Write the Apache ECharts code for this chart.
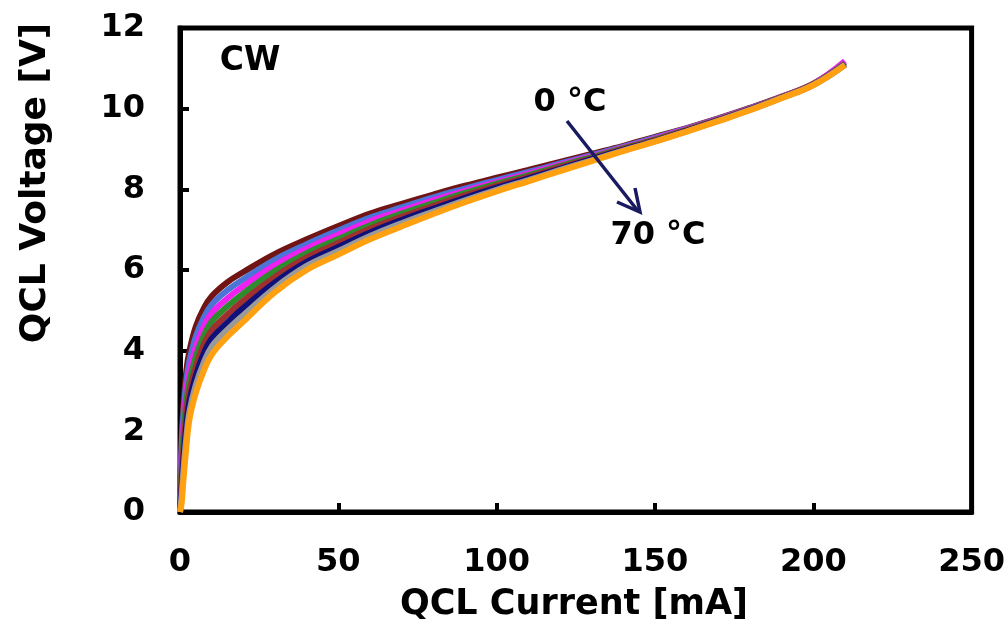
<!DOCTYPE html>
<html>
<head>
<meta charset="utf-8">
<script src="https://cdn.jsdelivr.net/npm/echarts@6/dist/echarts.min.js"></script>
<style>html,body{margin:0;padding:0;background:#fff;}#c{width:1008px;height:630px;}</style>
</head>
<body>
<div id="c"></div>
<script>
// QCL current [mA]
var current = [0, 0.5, 1, 2, 3, 5, 7.5, 10, 15, 20, 30, 40, 50, 60, 70, 80, 90, 100, 110, 120, 130, 140, 150, 160, 170, 180, 190, 200, 210];
// QCL voltage [V] per heat-sink temperature
var v0C  = [0, 1.8, 2.6, 3.5, 4.0, 4.6, 5.05, 5.35, 5.7, 5.95, 6.4, 6.76, 7.09, 7.4, 7.64, 7.87, 8.09, 8.29, 8.48, 8.68, 8.88, 9.08, 9.3, 9.52, 9.76, 10.02, 10.3, 10.62, 11.15];
var v10C = [0, 1.6, 2.35, 3.25, 3.75, 4.35, 4.82, 5.14, 5.5, 5.77, 6.26, 6.64, 6.98, 7.3, 7.55, 7.8, 8.02, 8.23, 8.43, 8.64, 8.85, 9.06, 9.28, 9.51, 9.75, 10.01, 10.29, 10.61, 11.14];
var v20C = [0, 1.35, 2.05, 3.0, 3.5, 4.1, 4.6, 4.93, 5.3, 5.6, 6.12, 6.53, 6.88, 7.21, 7.47, 7.73, 7.96, 8.18, 8.39, 8.61, 8.82, 9.04, 9.26, 9.5, 9.74, 10.0, 10.29, 10.61, 11.18];
var v30C = [0, 1.1, 1.8, 2.75, 3.25, 3.85, 4.37, 4.72, 5.1, 5.42, 5.98, 6.42, 6.77, 7.11, 7.4, 7.66, 7.91, 8.14, 8.35, 8.58, 8.8, 9.02, 9.24, 9.48, 9.73, 9.99, 10.28, 10.6, 11.12];
var v40C = [0, 0.85, 1.5, 2.45, 3.0, 3.6, 4.15, 4.5, 4.9, 5.24, 5.83, 6.31, 6.67, 7.02, 7.32, 7.59, 7.85, 8.09, 8.31, 8.55, 8.77, 9.0, 9.22, 9.47, 9.72, 9.99, 10.28, 10.6, 11.1];
var v50C = [0, 0.6, 1.2, 2.15, 2.75, 3.38, 3.93, 4.3, 4.7, 5.06, 5.69, 6.2, 6.57, 6.93, 7.24, 7.52, 7.79, 8.04, 8.27, 8.51, 8.75, 8.98, 9.2, 9.45, 9.71, 9.98, 10.27, 10.59, 11.09];
var v60C = [0, 0.4, 0.95, 1.85, 2.5, 3.15, 3.7, 4.1, 4.52, 4.88, 5.56, 6.1, 6.47, 6.84, 7.16, 7.45, 7.73, 7.99, 8.23, 8.48, 8.72, 8.96, 9.19, 9.44, 9.7, 9.97, 10.27, 10.59, 11.09];
var v70C = [0, 0.2, 0.7, 1.6, 2.3, 2.95, 3.5, 3.9, 4.35, 4.72, 5.45, 6.0, 6.38, 6.76, 7.08, 7.39, 7.68, 7.95, 8.2, 8.45, 8.7, 8.95, 9.18, 9.43, 9.69, 9.96, 10.26, 10.58, 11.08];
var temperatures = ['0 °C', '10 °C', '20 °C', '30 °C', '40 °C', '50 °C', '60 °C', '70 °C'];
var voltages = [v0C, v10C, v20C, v30C, v40C, v50C, v60C, v70C];
var colors = ['#701414', '#4A74D6', '#F020F0', '#2E8B2E', '#A03030', '#10107A', '#9A9A9A', '#FFA010'];

var FONT = '"DejaVu Sans", Verdana, sans-serif';

var series = voltages.map(function (vals, i) {
  return {
    name: temperatures[i],
    type: 'line',
    showSymbol: false,
    symbol: 'none',
    smooth: 0.4,
    lineStyle: { color: colors[i], width: 6 },
    data: current.map(function (c, k) { return [c, vals[k]]; }),
    z: 2 + i
  };
});

var chart = echarts.init(document.getElementById('c'), null, { renderer: 'canvas' });
chart.setOption({
  animation: false,
  backgroundColor: '#fff',
  grid: { left: 180, right: 35, top: 28, bottom: 118, show: true, borderColor: '#000', borderWidth: 5, backgroundColor: 'transparent' },
  xAxis: {
    type: 'value', min: 0, max: 250, interval: 50,
    axisLine: { show: true, onZero: false, lineStyle: { color: '#000', width: 5 } },
    axisTick: { show: true, inside: true, length: 9, lineStyle: { color: '#000', width: 4 } },
    axisLabel: { color: '#000', fontFamily: FONT, fontWeight: 'bold', fontSize: 32, margin: 35 },
    splitLine: { show: false }
  },
  yAxis: {
    type: 'value', min: 0, max: 12, interval: 2,
    axisLine: { show: true, onZero: false, lineStyle: { color: '#000', width: 5 } },
    axisTick: { show: true, inside: true, length: 9, lineStyle: { color: '#000', width: 4 } },
    axisLabel: { color: '#000', fontFamily: FONT, fontWeight: 'bold', fontSize: 32, margin: 35 },
    splitLine: { show: false }
  },
  series: series,
  graphic: [
    { type: 'text', x: 574, y: 605, style: { text: 'QCL Current [mA]', font: 'bold 35px ' + FONT, fill: '#000', textAlign: 'center', textVerticalAlign: 'middle' } },
    { type: 'text', x: 36, y: 183, rotation: Math.PI / 2, style: { text: 'QCL Voltage [V]', font: 'bold 36px ' + FONT, fill: '#000', textAlign: 'center', textVerticalAlign: 'middle' } },
    { type: 'text', x: 250, y: 61, style: { text: 'CW', font: 'bold 33px ' + FONT, fill: '#000', textAlign: 'center', textVerticalAlign: 'middle' } },
    { type: 'text', x: 570, y: 103, style: { text: '0 °C', font: 'bold 32px ' + FONT, fill: '#000', textAlign: 'center', textVerticalAlign: 'middle' } },
    { type: 'text', x: 658, y: 236, style: { text: '70 °C', font: 'bold 32px ' + FONT, fill: '#000', textAlign: 'center', textVerticalAlign: 'middle' } },
    { type: 'polyline', z: 100, shape: { points: [[567, 121], [638, 211]] }, style: { stroke: '#1A1A60', lineWidth: 3.5, fill: null } },
    { type: 'polyline', z: 100, shape: { points: [[617, 202], [640, 212], [635, 188]] }, style: { stroke: '#1A1A60', lineWidth: 3.5, fill: null, lineJoin: 'miter' } }
  ]
});
</script>
</body>
</html>
